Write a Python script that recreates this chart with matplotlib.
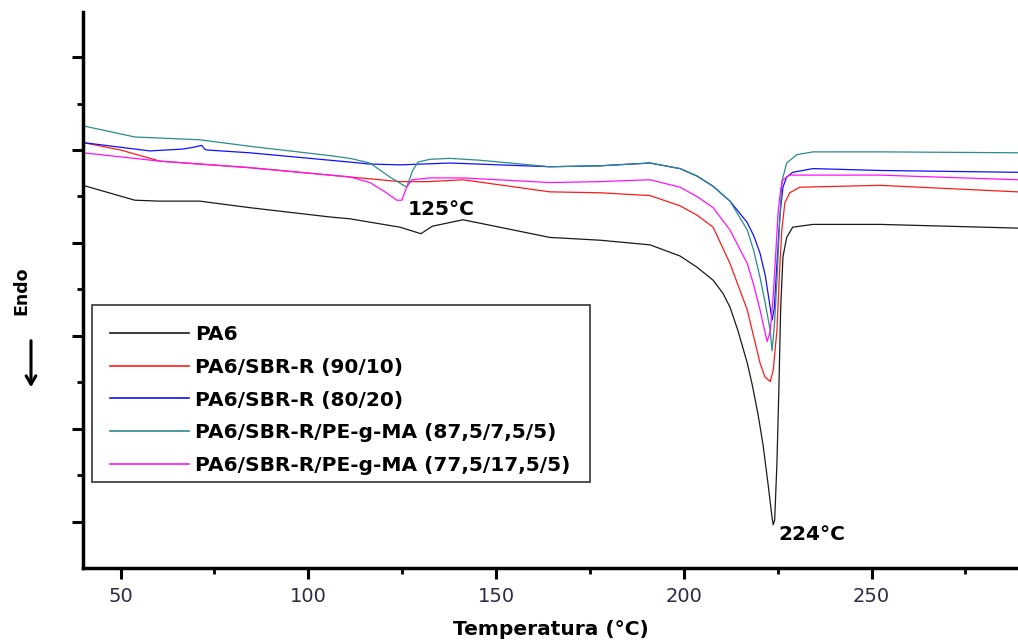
import matplotlib
matplotlib.use('Agg')
import matplotlib.pyplot as plt
from matplotlib.patches import Rectangle

# DSC curves (temperature in C, heat flow in arbitrary units, endo down)
t_pa6 = [40.0, 53.8, 60.5, 71.1, 84.4, 105.7, 111.1, 124.4, 130.0, 133.0, 141.2, 164.3, 177.7,
         191.0, 199.0, 203.5, 207.8, 210.4, 212.3, 214.4, 216.9, 218.2, 219.8, 221.1, 222.4,
         223.5, 223.8, 224.2, 224.8, 225.3, 225.8, 226.4, 227.4, 229.0, 234.4, 252.2, 288.9]
y_pa6 = [3.62, 3.46, 3.45, 3.45, 3.38, 3.28, 3.26, 3.17, 3.10, 3.18, 3.25, 3.06, 3.03,
         2.98, 2.86, 2.74, 2.60, 2.46, 2.31, 2.06, 1.71, 1.48, 1.15, 0.83, 0.42,
         0.05, -0.03, 0.02, 0.63, 1.40, 2.30, 2.85, 3.06, 3.17, 3.20, 3.20, 3.16]

t_9010 = [40.0, 50.0, 60.5, 84.4, 111.1, 124.4, 132.0, 141.2, 164.3, 177.7, 191.0, 199.0,
          203.5, 207.8, 212.3, 216.9, 220.3, 221.6, 223.0, 223.8, 224.8, 225.6, 226.1, 226.9,
          228.2, 230.9, 252.2, 288.9]
y_9010 = [4.08, 4.00, 3.88, 3.81, 3.71, 3.66, 3.66, 3.68, 3.55, 3.54, 3.51, 3.40,
          3.30, 3.17, 2.78, 2.28, 1.71, 1.56, 1.51, 1.63, 2.06, 2.78, 3.14, 3.43,
          3.54, 3.60, 3.62, 3.55]

t_8020 = [40.0, 57.8, 66.6, 69.5, 71.6, 72.4, 73.0, 84.4, 111.1, 116.0, 124.4, 137.7, 164.3,
          177.7, 191.0, 199.0, 203.5, 207.8, 212.3, 216.9, 218.6, 220.3, 221.7, 223.0, 223.5,
          224.1, 224.8, 225.6, 226.4, 227.4, 229.0, 234.4, 252.2, 288.9]
y_8020 = [4.08, 3.99, 4.01, 4.03, 4.05, 4.01, 4.00, 3.97, 3.87, 3.85, 3.84, 3.86, 3.82,
          3.83, 3.86, 3.80, 3.72, 3.61, 3.45, 3.22, 3.08, 2.89, 2.65, 2.31, 2.17,
          2.30, 2.78, 3.30, 3.60, 3.71, 3.76, 3.80, 3.78, 3.76]

t_875 = [40.0, 53.8, 71.1, 84.4, 105.7, 111.1, 116.4, 121.7, 126.2, 127.8, 129.2, 132.4, 137.7,
         145.7, 164.3, 177.7, 191.0, 199.0, 203.5, 207.8, 212.3, 216.9, 218.6, 220.3, 221.7,
         223.0, 223.5, 224.1, 224.8, 225.5, 226.1, 227.4, 230.1, 234.4, 252.2, 288.9]
y_875 = [4.26, 4.14, 4.11, 4.04, 3.94, 3.91, 3.86, 3.71, 3.60, 3.78, 3.87, 3.90, 3.91,
         3.89, 3.82, 3.83, 3.86, 3.80, 3.72, 3.61, 3.45, 3.14, 2.92, 2.63, 2.35,
         2.06, 1.84, 2.10, 2.60, 3.20, 3.66, 3.86, 3.95, 3.98, 3.98, 3.97]

t_775 = [40.0, 60.5, 84.4, 111.1, 116.4, 120.4, 123.6, 124.9, 126.2, 127.6, 132.4, 141.2, 164.3,
         177.7, 191.0, 199.0, 203.5, 207.8, 212.3, 216.9, 218.6, 220.3, 221.3, 222.2, 223.0,
         223.8, 224.5, 225.1, 225.8, 226.4, 228.2, 252.2, 288.9]
y_775 = [3.97, 3.88, 3.81, 3.71, 3.65, 3.55, 3.46, 3.46, 3.60, 3.68, 3.70, 3.70, 3.65,
         3.66, 3.68, 3.60, 3.50, 3.38, 3.14, 2.78, 2.55, 2.28, 2.10, 1.94, 2.05,
         2.42, 2.90, 3.32, 3.58, 3.68, 3.73, 3.73, 3.68]

labels = ['PA6', 'PA6/SBR-R (90/10)', 'PA6/SBR-R (80/20)',
          'PA6/SBR-R/PE-g-MA (87,5/7,5/5)', 'PA6/SBR-R/PE-g-MA (77,5/17,5/5)']
colors = ['#1a1a1a', '#ff1a1a', '#1010ff', '#2a8c8c', '#ff10ff']
series = [(t_pa6, y_pa6), (t_9010, y_9010), (t_8020, y_8020), (t_875, y_875), (t_775, y_775)]

fig = plt.figure(figsize=(10.18, 6.41), dpi=100)
ax = fig.add_axes([83 / 1018, 1 - 568 / 641, 935 / 1018, 556 / 641])

for (t, y), c, lab in zip(series, colors, labels):
    ax.plot(t, y, color=c, lw=0.9, label=lab)

ax.set_xlim(40, 289)
ax.set_ylim(-0.495, 5.484)

ax.spines['top'].set_visible(False)
ax.spines['right'].set_visible(False)
ax.spines['left'].set_linewidth(2.5)
ax.spines['bottom'].set_linewidth(2.5)

ax.set_xticks([50, 100, 150, 200, 250])
ax.set_xticks([75, 125, 175, 225, 275], minor=True)
ax.set_yticks([0, 1, 2, 3, 4, 5])
ax.set_yticks([0.5, 1.5, 2.5, 3.5, 4.5], minor=True)
ax.set_yticklabels([])
ax.tick_params(which='major', direction='out', length=8, width=2.2, labelsize=14,
               labelcolor='#2b2b45', pad=6)
ax.tick_params(which='minor', direction='out', length=4.5, width=2.0)

ax.set_xlabel('Temperatura (°C)', fontsize=14.5, fontweight='bold', labelpad=9.5)

fig.text(21 / 1018, 1 - 291 / 641, 'Endo', rotation=90, fontsize=12.5, fontweight='bold',
         ha='center', va='center')
ax.annotate('', xy=(31 / 1018, 1 - 390 / 641), xytext=(31 / 1018, 1 - 338 / 641),
            xycoords='figure fraction', textcoords='figure fraction',
            arrowprops=dict(arrowstyle='->, head_width=0.35, head_length=0.6', lw=2.2, color='black'))

ax.text(135.3, 3.355, '125°C', fontsize=14.5, fontweight='bold', ha='center', va='center')
ax.text(234.1, -0.14, '224°C', fontsize=14.5, fontweight='bold', ha='center', va='center')

# legend entries without frame, box drawn separately (it has more room on top)
leg = ax.legend(loc='upper left', bbox_to_anchor=(7 / 935, (568 - 305) / 556), borderaxespad=0,
                frameon=False, handlelength=3.9,
                handletextpad=0.3, labelspacing=0.68, borderpad=1.0,
                prop={'size': 14.5, 'weight': 'bold'})
for line in leg.get_lines():
    line.set_linewidth(1.2)
fig.patches.append(Rectangle((92 / 1018, 1 - 482 / 641), 498 / 1018, 177 / 641,
                             transform=fig.transFigure, fill=False,
                             edgecolor='#333333', lw=1.2, zorder=5))

fig.savefig('out.png', dpi=100)
